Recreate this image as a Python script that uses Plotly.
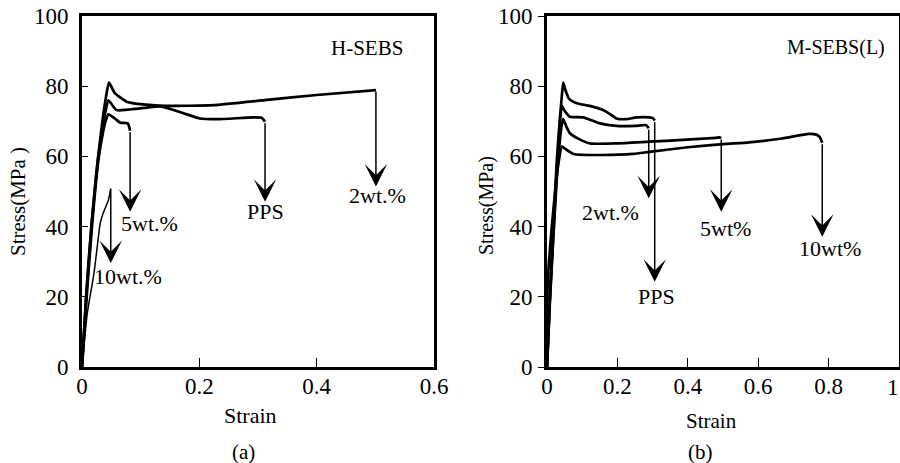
import plotly.graph_objects as go

# ---------------- Panel (a): H-SEBS ----------------
a_2wt_strain = [0, 0.007, 0.016, 0.027, 0.034, 0.040, 0.046, 0.056, 0.076, 0.099, 0.144, 0.224, 0.315, 0.400, 0.501]
a_2wt_stress = [0, 20, 40, 59, 69, 76, 81, 78, 75.6, 74.9, 74.4, 74.6, 76.1, 77.5, 78.9]

a_pps_strain = [0, 0.007, 0.016, 0.027, 0.035, 0.041, 0.045, 0.059, 0.099, 0.136, 0.173, 0.201, 0.230, 0.292, 0.306, 0.312]
a_pps_stress = [0, 20, 40, 59, 68, 73.5, 76, 73.2, 73.7, 74.2, 72.3, 70.8, 70.6, 71.1, 71.0, 69.9]

a_5wt_strain = [0, 0.008, 0.017, 0.028, 0.036, 0.041, 0.045, 0.056, 0.065, 0.078, 0.082]
a_5wt_stress = [0, 20, 40, 59, 67, 70.5, 72, 70.8, 69.6, 69.4, 67.3]

a_10wt_strain = [0, 0.009, 0.0205, 0.026, 0.031, 0.036, 0.045, 0.049]
a_10wt_stress = [0, 15.3, 26.8, 34.3, 40.9, 43.8, 47.6, 50.9]

a_labels = ["2wt.%", "PPS", "5wt.%", "10wt.%"]
a_arrow_tip_stress = [51.4, 47.1, 44.2, 29.6]
a_label_strain = [0.503, 0.313, 0.115, 0.078]
a_label_stress = [49.0, 44.2, 40.9, 25.7]

# ---------------- Panel (b): M-SEBS(L) ----------------
b_pps_strain = [0, 0.008, 0.018, 0.028, 0.036, 0.042, 0.046, 0.052, 0.062, 0.074, 0.090, 0.122, 0.159, 0.180, 0.197, 0.225, 0.254, 0.291, 0.302, 0.306]
b_pps_stress = [0, 20, 40, 59, 70, 77, 81, 79, 76.5, 75.6, 75, 74.4, 73.2, 72, 70.8, 70.6, 71.1, 71.1, 70.8, 70.2]

b_2wt_strain = [0, 0.008, 0.018, 0.028, 0.035, 0.042, 0.050, 0.065, 0.103, 0.150, 0.197, 0.250, 0.282, 0.289]
b_2wt_stress = [0, 19, 38, 56, 67, 74.4, 73, 71.3, 71.1, 69.4, 68.7, 68.7, 68.9, 68.0]

b_5wt_strain = [0, 0.008, 0.018, 0.028, 0.036, 0.042, 0.046, 0.055, 0.065, 0.090, 0.122, 0.197, 0.291, 0.386, 0.480, 0.490, 0.495]
b_5wt_stress = [0, 18, 37, 54, 64, 69, 70.6, 68.5, 66.6, 65, 63.7, 63.7, 64.2, 64.7, 65.3, 65.4, 65.2]

b_10wt_strain = [0, 0.002, 0.012, 0.024, 0.034, 0.042, 0.050, 0.075, 0.150, 0.245, 0.291, 0.400, 0.500, 0.574, 0.668, 0.744, 0.765, 0.775, 0.782]
b_10wt_stress = [0, 24, 38, 51, 59, 62.8, 62.3, 60.7, 60.4, 60.7, 61.3, 62.6, 63.5, 64, 65.1, 66.4, 66.2, 65.5, 63.9]

b_labels = ["2wt.%", "PPS", "5wt%", "10wt%"]
b_arrow_tip_stress = [48.1, 24.3, 44.2, 37.1]
b_label_strain = [0.181, 0.310, 0.508, 0.803]
b_label_stress = [44.0, 20.0, 39.5, 33.8]

a_xticks = [0, 0.2, 0.4, 0.6]
a_xticktext = ["0", "0.2", "0.4", "0.6"]
b_xticks = [0, 0.2, 0.4, 0.6, 0.8, 1.0]
b_xticktext = ["0", "0.2", "0.4", "0.6", "0.8", "1"]
yticks = [0, 20, 40, 60, 80, 100]

FONT = "Liberation Serif"
fig = go.Figure()

def add_curve(x, y, xa, ya, width=2.6):
    fig.add_trace(go.Scatter(x=x, y=y, mode="lines",
                             line=dict(color="black", width=width, shape="spline", smoothing=0.5),
                             xaxis=xa, yaxis=ya, showlegend=False, hoverinfo="skip"))

a_curves = [(a_2wt_strain, a_2wt_stress), (a_pps_strain, a_pps_stress),
            (a_5wt_strain, a_5wt_stress), (a_10wt_strain, a_10wt_stress)]
b_curves = [(b_2wt_strain, b_2wt_stress), (b_pps_strain, b_pps_stress),
            (b_5wt_strain, b_5wt_stress), (b_10wt_strain, b_10wt_stress)]

for i, (xs, ys) in enumerate(a_curves):
    add_curve(xs, ys, "x", "y", 1.5 if i == 3 else 2.7)
for xs, ys in b_curves:
    add_curve(xs, ys, "x2", "y2", 2.7)

annotations = []

def add_arrows(curves, tips, labels, lx, ly, xr, yr):
    for (xs, ys), tip, lab, tx, ty in zip(curves, tips, labels, lx, ly):
        annotations.append(dict(x=xs[-1], y=tip, ax=xs[-1], ay=ys[-1], xref=xr, yref=yr,
                                axref=xr, ayref=yr, showarrow=True, arrowhead=3,
                                arrowsize=2.5, arrowwidth=1.5, arrowcolor="black",
                                standoff=0, startstandoff=0, text=""))
        annotations.append(dict(x=tx, y=ty, xref=xr, yref=yr, text=lab, showarrow=False,
                                font=dict(family=FONT, size=22, color="black")))

add_arrows(a_curves, a_arrow_tip_stress, a_labels, a_label_strain, a_label_stress, "x", "y")
add_arrows(b_curves, b_arrow_tip_stress, b_labels, b_label_strain, b_label_stress, "x2", "y2")

def paper_text(px, py, text, size, angle=0):
    annotations.append(dict(x=px / 900, y=1 - py / 463, xref="paper", yref="paper",
                            text=text, showarrow=False, textangle=angle,
                            font=dict(family=FONT, size=size, color="black"),
                            xanchor="center", yanchor="middle"))

paper_text(367, 48, "H-SEBS", 21)
paper_text(836, 47, "M-SEBS(L)", 20)
paper_text(250, 415, "Strain", 22)
paper_text(711, 421, "Strain", 21)
paper_text(18, 202, "Stress(MPa )", 21, -90)
paper_text(487, 206, "Stress(MPa)", 20, -90)
paper_text(243, 452, "(a)", 21)
paper_text(700, 452, "(b)", 21)

# last tick label of panel (b) sits on the page edge; plotly drops it, so draw it as text
annotations.append(dict(x=b_xticks[-1], y=1 - 387.5 / 463, xref="x2", yref="paper",
                        text=b_xticktext[-1], showarrow=False, xanchor="right", yanchor="middle",
                        xshift=1, borderpad=0,
                        font=dict(family=FONT, size=23, color="black")))

ydom = [(463 - 367) / 463, (463 - 16) / 463]
axis_common = dict(showline=True, mirror=True, linewidth=3, linecolor="black",
                   showgrid=False, zeroline=False, tickcolor="black", tickwidth=1,
                   automargin=False,
                   tickfont=dict(family=FONT, size=23, color="black"))

fig.update_layout(
    width=900, height=463, margin=dict(l=0, r=0, t=0, b=0, pad=0, autoexpand=False),
    paper_bgcolor="white", plot_bgcolor="white",
    xaxis=dict(domain=[82 / 900, 434 / 900], range=[0, 0.6], tickvals=a_xticks,
               ticktext=a_xticktext, ticks="inside", ticklen=9,
               ticklabelstandoff=-4, anchor="y", **axis_common),
    yaxis=dict(domain=ydom, range=[0, 100], tickvals=yticks, ticks="inside", ticklen=6,
               ticklabelstandoff=6, anchor="x", **axis_common),
    xaxis2=dict(domain=[547 / 900, 899 / 900], range=[0, 1], tickvals=b_xticks,
                ticktext=b_xticktext, ticks="inside", ticklen=9, ticklabelstandoff=-4,
                anchor="y2", **axis_common),
    yaxis2=dict(domain=ydom, range=[0, 100], tickvals=yticks, ticks="outside", ticklen=6,
                ticklabelstandoff=1, anchor="x2", **axis_common),
    annotations=annotations,
)

fig.write_html("out.html")
